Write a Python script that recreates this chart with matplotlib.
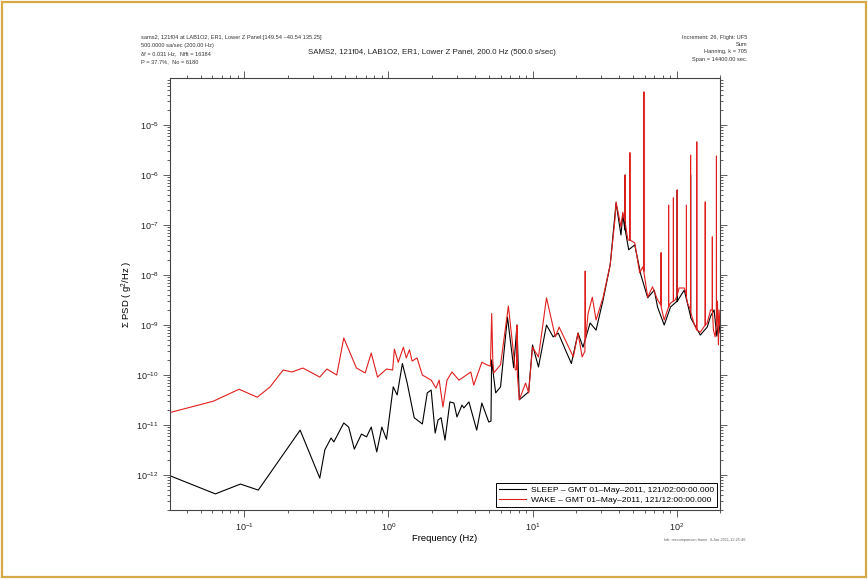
"""
SAMS2 121f04 PSD: sleep vs wake periods, 01-May-2011.
Writes out.png (868x579).
"""

import matplotlib
matplotlib.use("Agg")
import matplotlib.pyplot as plt
from matplotlib.patches import Rectangle
from matplotlib.ticker import LogLocator, NullFormatter

plt.rcParams.update({
    "font.family": ["Liberation Sans", "DejaVu Sans"],
    "mathtext.default": "regular",
    "font.size": 6.5,
})

# ---- data ------------------------------------------------------------------
sleep_freq = [0.031, 0.063, 0.094, 0.125, 0.244, 0.334, 0.362, 0.40, 0.418, 0.49,
              0.53, 0.58, 0.65, 0.705, 0.76, 0.83, 0.90, 0.97, 1.08, 1.15,
              1.25, 1.35, 1.51, 1.72, 1.86, 1.98, 2.11, 2.21, 2.32, 2.47,
              2.67, 2.85, 2.99, 3.24, 3.34, 3.62, 4.1, 4.45, 4.97, 5.15,
              5.2, 5.55, 6.0, 6.7, 7.4, 7.8, 8.1, 9.4, 10.0, 11.0,
              12.5, 13.9, 15.1, 16.9, 18.6, 20.7, 22.4, 25.1, 27.6, 30.9,
              34.6, 38.0, 41.1, 42.3, 43.8, 43.9, 44.0, 46.5, 51.2, 56.5,
              63.0, 70.0, 73.7, 82.0, 90.7, 100.9, 101.0, 101.1, 113.0, 124.9,
              125.0, 125.1, 146.0, 163.0, 172.0, 182.0, 190.0, 196.0, 200.0]
sleep_psd = [9.5e-13, 4.2e-13, 6.6e-13, 5.0e-13, 7.9e-12, 8.7e-13, 3.2e-12, 5.5e-12, 4.6e-12, 1.1e-11,
             9.1e-12, 3.3e-12, 6.6e-12, 5.8e-12, 9.1e-12, 2.9e-12, 9.1e-12, 5.2e-12, 5.8e-11, 4.0e-11,
             1.7e-10, 6.9e-11, 1.4e-11, 1.05e-11, 4.4e-11, 5.0e-11, 6.9e-12, 1.26e-11, 1.4e-11, 5.0e-12,
             2.9e-11, 2.75e-11, 1.45e-11, 2.5e-11, 2.2e-11, 2.9e-11, 7.9e-12, 2.75e-11, 1.15e-11, 1.2e-11,
             2.0e-10, 4.4e-11, 5.8e-11, 1.45e-9, 1.4e-10, 1.0e-9, 3.2e-11, 4.6e-11, 4.0e-10, 1.45e-10,
             1.0e-9, 5.8e-10, 6.9e-10, 3.2e-10, 1.7e-10, 6.9e-10, 3.6e-10, 1.1e-9, 7.9e-10, 3.2e-9,
             1.6e-8, 2.75e-7, 6.3e-8, 1.6e-7, 8.0e-8, 1.0e-6, 8.0e-8, 3.2e-8, 4.0e-8, 1.0e-8,
             3.5e-9, 5.0e-9, 2.3e-9, 1.0e-9, 2.3e-9, 3.0e-9, 5.0e-7, 3.0e-9, 5.0e-9, 1.5e-9,
             1.0e-6, 1.4e-9, 6.3e-10, 9.1e-10, 1.5e-9, 2.0e-9, 6.0e-10, 1.2e-9, 7.0e-10]

wake_freq = [0.031, 0.061, 0.092, 0.123, 0.151, 0.186, 0.214, 0.255, 0.334, 0.374,
             0.438, 0.49, 0.60, 0.69, 0.76, 0.84, 0.97, 1.07, 1.10, 1.17,
             1.27, 1.33, 1.40, 1.46, 1.58, 1.72, 1.98, 2.14, 2.25, 2.39,
             2.55, 2.76, 3.09, 3.73, 3.91, 4.45, 4.82, 5.1, 5.21, 5.3,
             5.38, 6.0, 6.8, 7.6, 7.75, 7.8, 7.85, 8.1, 8.95, 9.4,
             10.0, 11.0, 12.5, 14.4, 15.3, 16.9, 19.2, 20.7, 22.1, 23.1,
             23.2, 23.3, 24.3, 26.0, 27.6, 30.9, 34.6, 37.3, 38.0, 41.1,
             42.3, 43.8, 43.9, 44.0, 45.9, 47.3, 47.4, 47.5, 51.2, 55.4,
             58.2, 59.2, 59.3, 59.4, 63.0, 68.0, 73.7, 77.9, 78.0, 78.1,
             82.0, 87.9, 88.0, 88.1, 90.7, 94.9, 95.0, 95.1, 98.0, 100.9,
             101.0, 101.1, 104.0, 113.0, 116.9, 117.0, 117.1, 119.0, 124.9, 125.0,
             125.1, 133.0, 137.9, 138.0, 138.1, 146.0, 157.9, 158.0, 158.1, 163.0,
             172.0, 176.9, 177.0, 177.1, 180.0, 185.0, 188.9, 189.0, 189.1, 192.0,
             195.0, 197.0, 200.0]
wake_psd = [1.8e-11, 3.0e-11, 5.2e-11, 3.6e-11, 5.8e-11, 1.26e-10, 1.15e-10, 1.38e-10, 9.1e-11, 1.32e-10,
            1.0e-10, 5.5e-10, 1.38e-10, 1.1e-10, 2.75e-10, 9.1e-11, 1.32e-10, 1.26e-10, 3.3e-10, 1.8e-10,
            3.6e-10, 2.2e-10, 3.2e-10, 1.9e-10, 2.2e-10, 1.0e-10, 7.9e-11, 5.5e-11, 7.9e-11, 2.3e-11,
            7.9e-11, 1.15e-10, 7.9e-11, 1.15e-10, 6.3e-11, 1.8e-10, 1.6e-10, 1.5e-10, 1.7e-9, 2.0e-10,
            1.1e-10, 1.6e-10, 2.4e-9, 1.26e-10, 1.3e-10, 1.0e-9, 1.0e-10, 3.2e-11, 6.9e-11, 4.4e-11,
            3.6e-10, 2.3e-10, 3.5e-9, 5.8e-10, 9.1e-10, 5.0e-10, 2.3e-10, 6.9e-10, 2.3e-10, 3.0e-10,
            1.2e-8, 5.0e-10, 1.7e-9, 3.6e-9, 1.26e-9, 3.6e-9, 1.6e-8, 1.26e-7, 2.9e-7, 9.1e-8,
            1.8e-7, 1.2e-7, 1.0e-6, 1.1e-7, 5.0e-8, 5.0e-8, 2.8e-6, 5.0e-8, 4.4e-8, 1.1e-8,
            1.45e-8, 1.2e-8, 4.6e-5, 1.1e-8, 3.6e-9, 5.8e-9, 3.2e-9, 2.5e-9, 2.8e-8, 2.3e-9,
            1.26e-9, 2.3e-9, 2.5e-7, 2.3e-9, 2.75e-9, 3.0e-9, 3.5e-7, 3.0e-9, 3.2e-9, 4.0e-9,
            5.0e-7, 4.0e-9, 5.5e-9, 5.5e-9, 4.0e-9, 2.5e-7, 3.5e-9, 2.75e-9, 2.0e-9, 2.5e-6,
            1.8e-9, 1.0e-9, 8.0e-10, 4.6e-6, 8.0e-10, 7.2e-10, 1.0e-9, 2.9e-7, 1.0e-9, 1.1e-9,
            2.0e-9, 2.0e-9, 5.8e-8, 2.0e-9, 8.0e-10, 5.8e-10, 1.0e-9, 2.4e-6, 1.0e-9, 3.0e-9,
            4.0e-10, 2.0e-9, 1.0e-9]

sleep_label = "SLEEP \u2013 GMT 01\u2013May\u20132011, 121/02:00:00.000"
wake_label = "WAKE \u2013 GMT 01\u2013May\u20132011, 121/12:00:00.000"

title = "SAMS2, 121f04, LAB1O2, ER1, Lower Z Panel, 200.0 Hz (500.0 s/sec)"
info_left = ["sams2, 121f04 at LAB1O2, ER1, Lower Z Panel:[149.54 \u201340.54 135.25]",
             "500.0000 sa/sec (200.00 Hz)",
             "\u03b4f = 0.031 Hz,  Nfft = 16384",
             "P = 37.7%,  No = 6180"]
info_right = ["Increment: 26, Flight: UF5",
              "Sum",
              "Hanning, k = 705",
              "Span = 14400.00 sec."]
footer = "kdr: mscomparison.frame  4-Jan-2011,12:25:46"

W, H = 868, 579
fig = plt.figure(figsize=(W / 100, H / 100), dpi=100)
fig.patch.set_facecolor("white")

# gold frame round the picture
fig.patches.append(Rectangle((2 / W, 2 / H), 1 - 4 / W, 1 - 4 / H, transform=fig.transFigure,
                             fill=False, edgecolor="#d6a846", linewidth=1.6))

ax = fig.add_axes([170 / W, 1 - 510 / H, 550 / W, 432 / H])
ax.plot(sleep_freq, sleep_psd, color="black", linewidth=0.8, label=sleep_label)
ax.plot(wake_freq, wake_psd, color="#e0201e", linewidth=0.8, label=wake_label)

ax.set_xscale("log")
ax.set_yscale("log")
ax.set_xlim(0.0305, 200)
ax.set_ylim(2.0e-13, 8.7e-5)
ax.set_xticks([0.1, 1, 10, 100])
ax.set_yticks([1e-12, 1e-11, 1e-10, 1e-9, 1e-8, 1e-7, 1e-6, 1e-5])
ax.xaxis.set_minor_locator(LogLocator(base=10, subs=range(2, 10), numticks=100))
ax.yaxis.set_minor_locator(LogLocator(base=10, subs=range(2, 10), numticks=100))
ax.xaxis.set_minor_formatter(NullFormatter())
ax.yaxis.set_minor_formatter(NullFormatter())
ax.tick_params(which="both", direction="out", top=True, right=True, colors="#444444",
               labelcolor="#222222", labelsize=6.5, width=0.6)
ax.tick_params(which="major", length=5, pad=3)
ax.tick_params(which="minor", length=2.5)
for sp in ax.spines.values():
    sp.set_color("#444444")
    sp.set_linewidth(0.8)

ax.set_xlabel("Frequency (Hz)", fontsize=6.8, labelpad=1)
ax.set_ylabel("\u03a3 PSD ( g$^2$/Hz )", fontsize=6.8, labelpad=1)

leg = ax.legend(loc="lower right", fontsize=6.1, frameon=True, fancybox=False,
                edgecolor="black", framealpha=1, borderaxespad=0.4, borderpad=0.35,
                labelspacing=0.2, handlelength=3.2, handletextpad=0.5)
leg.get_frame().set_linewidth(0.7)

fig.text(432 / W, 1 - 52 / H, title, ha="center", va="center", fontsize=5.7, color="#222222")
for i, (yl, yr) in enumerate(zip([37, 46, 54, 62], [37, 44, 52, 60])):
    fig.text(141 / W, 1 - yl / H, info_left[i], ha="left", va="center", fontsize=4.1, color="#333333")
    fig.text(747 / W, 1 - yr / H, info_right[i], ha="right", va="center", fontsize=4.1, color="#333333")
fig.text(745 / W, 1 - 540 / H, footer, ha="right", va="center", fontsize=2.8, color="#666666")

fig.savefig("out.png", dpi=100)
plt.close(fig)
